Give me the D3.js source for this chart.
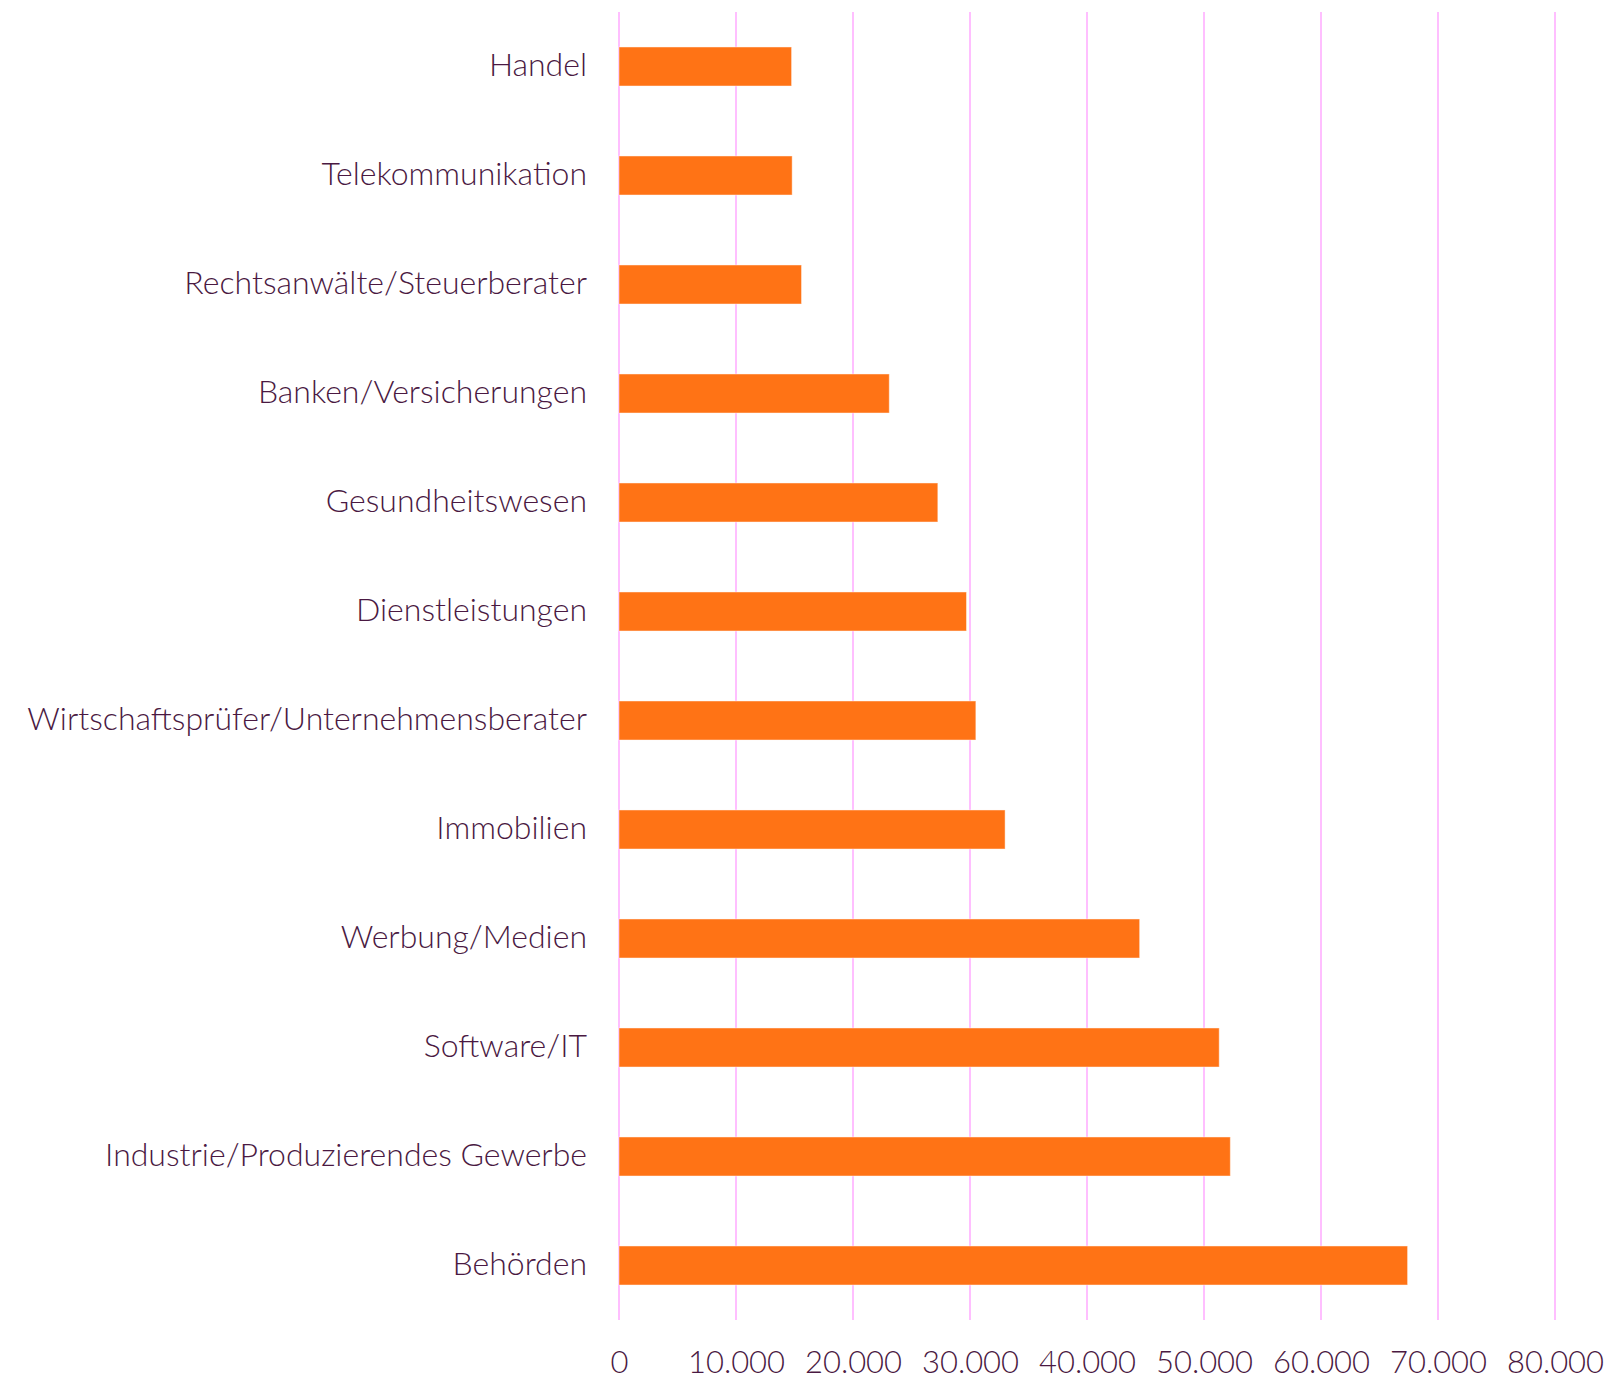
<!DOCTYPE html>
<html>
<head>
<meta charset="utf-8">
<script src="https://cdn.jsdelivr.net/npm/d3@7"></script>
<style>
  html, body { margin: 0; padding: 0; background: #fff; }
  text { font-family: Lato, "Open Sans", sans-serif; font-weight: 300; fill: #4a1942; }
</style>
</head>
<body>
<div id="chart"></div>
<script>
// Branchen und Werte (von oben nach unten)
const branchen = [
  "Handel",
  "Telekommunikation",
  "Rechtsanwälte/Steuerberater",
  "Banken/Versicherungen",
  "Gesundheitswesen",
  "Dienstleistungen",
  "Wirtschaftsprüfer/Unternehmensberater",
  "Immobilien",
  "Werbung/Medien",
  "Software/IT",
  "Industrie/Produzierendes Gewerbe",
  "Behörden"
];
const werte = [14750, 14800, 15600, 23100, 27250, 29700, 30500, 33000, 44500, 51300, 52250, 67400];
const ticks = [0, 10000, 20000, 30000, 40000, 50000, 60000, 70000, 80000];

const W = 1611, H = 1379;
const m = { top: 12, right: 56, bottom: 59, left: 619 };

const svg = d3.select("#chart").append("svg").attr("width", W).attr("height", H);

const x = d3.scaleLinear().domain([0, 80000]).range([m.left, W - m.right]);
const y = d3.scaleBand().domain(branchen).range([m.top, H - m.bottom]).paddingInner(0.642).paddingOuter(0.321);

const de = d3.formatLocale({ decimal: ",", thousands: ".", grouping: [3], currency: ["", " €"] });
const fmt = de.format(",");

// Gitterlinien
svg.append("g")
  .selectAll("line")
  .data(ticks)
  .join("line")
  .attr("x1", d => x(d)).attr("x2", d => x(d))
  .attr("y1", m.top).attr("y2", H - m.bottom)
  .attr("stroke", "#ffbfff")
  .attr("stroke-width", 2);

// Balken
svg.append("g")
  .selectAll("rect")
  .data(branchen)
  .join("rect")
  .attr("x", x(0))
  .attr("y", d => y(d))
  .attr("width", (d, i) => x(werte[i]) - x(0))
  .attr("height", y.bandwidth())
  .attr("fill", "#ff7315")
  .attr("stroke", "rgba(255,255,255,0.45)")
  .attr("stroke-width", 1);

// Kategorie-Beschriftung
svg.append("g")
  .selectAll("text")
  .data(branchen)
  .join("text")
  .attr("x", m.left - 32)
  .attr("y", d => y(d) + y.bandwidth() / 2)
  .attr("dy", "0.29em")
  .attr("text-anchor", "end")
  .style("font-size", "32px")
  .text(d => d);

// X-Achse
const ax = svg.append("g")
  .attr("transform", `translate(0,${H - m.bottom})`)
  .call(d3.axisBottom(x).tickValues(ticks).tickFormat(fmt).tickSize(0).tickPadding(0));
ax.select(".domain").remove();
ax.selectAll("text")
  .attr("y", 53)
  .attr("dy", 0)
  .style("font-size", "31px")
  .style("font-family", "Lato, 'Open Sans', sans-serif")
  .style("font-weight", 300)
  .attr("fill", "#4a1942");
</script>
</body>
</html>
